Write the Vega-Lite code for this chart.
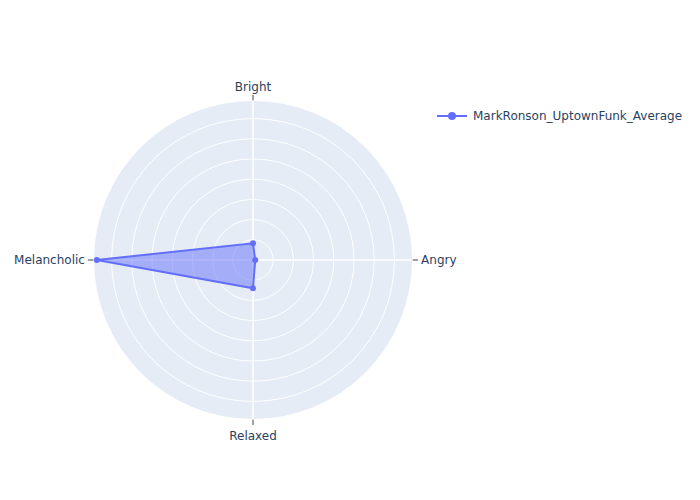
{
  "$schema": "https://vega.github.io/schema/vega-lite/v6.json",
  "width": 318,
  "height": 318,
  "autosize": {"type": "none"},
  "padding": {"left": 94, "top": 101, "right": 288, "bottom": 81},
  "background": "#ffffff",
  "view": {"stroke": null},
  "config": {"font": "DejaVu Sans", "text": {"font": "DejaVu Sans"}},
  "resolve": {"scale": {"color": "shared", "size": "independent"}},
  "datasets": {
    "series": [
      {"series": "MarkRonson_UptownFunk_Average", "axis": "Bright", "idx": 0, "r": 0.83},
      {"series": "MarkRonson_UptownFunk_Average", "axis": "Angry", "idx": 1, "r": 0.11},
      {"series": "MarkRonson_UptownFunk_Average", "axis": "Relaxed", "idx": 2, "r": 1.4},
      {"series": "MarkRonson_UptownFunk_Average", "axis": "Melancholic", "idx": 3, "r": 7.73}
    ],
    "rings": [{"r": 1}, {"r": 2}, {"r": 3}, {"r": 4}, {"r": 5}, {"r": 6}, {"r": 7}],
    "axes": [
      {"axis": "Bright", "idx": 0},
      {"axis": "Angry", "idx": 1},
      {"axis": "Relaxed", "idx": 2},
      {"axis": "Melancholic", "idx": 3}
    ]
  },
  "layer": [
    {
      "data": {"values": [{"r": 7.87}]},
      "transform": [{"calculate": "0", "as": "cx"}],
      "mark": {"type": "point", "shape": "circle", "filled": true, "color": "#E5ECF6", "opacity": 1},
      "encoding": {
        "x": {"field": "cx", "type": "quantitative", "scale": {"domain": [-7.87, 7.87], "nice": false, "zero": false}, "axis": null},
        "y": {"field": "cx", "type": "quantitative", "scale": {"domain": [-7.87, 7.87], "nice": false, "zero": false}, "axis": null},
        "size": {"field": "r", "type": "quantitative", "scale": {"type": "pow", "exponent": 2, "domain": [0, 7.87], "range": [0, 101124], "zero": true, "nice": false}, "legend": null}
      }
    },
    {
      "data": {"name": "rings"},
      "transform": [{"calculate": "0", "as": "cx"}],
      "mark": {"type": "point", "shape": "circle", "filled": false, "stroke": "#ffffff", "strokeWidth": 1, "opacity": 1},
      "encoding": {
        "x": {"field": "cx", "type": "quantitative", "axis": null},
        "y": {"field": "cx", "type": "quantitative", "axis": null},
        "size": {"field": "r", "type": "quantitative", "scale": {"type": "pow", "exponent": 2, "domain": [0, 7.87], "range": [0, 101124], "zero": true, "nice": false}, "legend": null}
      }
    },
    {
      "data": {"name": "axes"},
      "transform": [
        {"filter": "datum.idx < 2"},
        {"calculate": "datum.idx * PI / 2", "as": "a"},
        {"calculate": "7.87 * sin(datum.a)", "as": "gx"},
        {"calculate": "7.87 * cos(datum.a)", "as": "gy"},
        {"calculate": "-7.87 * sin(datum.a)", "as": "hx"},
        {"calculate": "-7.87 * cos(datum.a)", "as": "hy"}
      ],
      "mark": {"type": "rule", "stroke": "#ffffff", "strokeWidth": 1.5},
      "encoding": {
        "x": {"field": "hx", "type": "quantitative", "axis": null},
        "y": {"field": "hy", "type": "quantitative", "axis": null},
        "x2": {"field": "gx"},
        "y2": {"field": "gy"}
      }
    },
    {
      "data": {"name": "axes"},
      "transform": [
        {"calculate": "datum.idx * PI / 2", "as": "a"},
        {"calculate": "7.9 * sin(datum.a)", "as": "t1x"},
        {"calculate": "7.9 * cos(datum.a)", "as": "t1y"},
        {"calculate": "8.17 * sin(datum.a)", "as": "t2x"},
        {"calculate": "8.17 * cos(datum.a)", "as": "t2y"}
      ],
      "mark": {"type": "rule", "stroke": "#444444", "strokeWidth": 1},
      "encoding": {
        "x": {"field": "t1x", "type": "quantitative", "axis": null},
        "y": {"field": "t1y", "type": "quantitative", "axis": null},
        "x2": {"field": "t2x"},
        "y2": {"field": "t2y"}
      }
    },
    {
      "data": {"name": "axes"},
      "transform": [
        {"filter": "datum.idx == 0 || datum.idx == 2"},
        {"calculate": "datum.idx * PI / 2", "as": "a"},
        {"calculate": "datum.idx == 0 ? 8.58 : 8.7", "as": "lr"},
        {"calculate": "datum.lr * sin(datum.a)", "as": "lx"},
        {"calculate": "datum.lr * cos(datum.a)", "as": "ly"}
      ],
      "mark": {"type": "text", "align": "center", "baseline": "middle", "fontSize": 12, "color": "#2a3f5f", "font": "DejaVu Sans"},
      "encoding": {
        "x": {"field": "lx", "type": "quantitative", "axis": null},
        "y": {"field": "ly", "type": "quantitative", "axis": null},
        "text": {"field": "axis"}
      }
    },
    {
      "data": {"name": "axes"},
      "transform": [
        {"filter": "datum.idx == 1"},
        {"calculate": "datum.idx * PI / 2", "as": "a"},
        {"calculate": "8.32 * sin(datum.a)", "as": "lx"},
        {"calculate": "8.32 * cos(datum.a)", "as": "ly"}
      ],
      "mark": {"type": "text", "align": "left", "baseline": "middle", "fontSize": 12, "color": "#2a3f5f", "font": "DejaVu Sans"},
      "encoding": {
        "x": {"field": "lx", "type": "quantitative", "axis": null},
        "y": {"field": "ly", "type": "quantitative", "axis": null},
        "text": {"field": "axis"}
      }
    },
    {
      "data": {"name": "axes"},
      "transform": [
        {"filter": "datum.idx == 3"},
        {"calculate": "datum.idx * PI / 2", "as": "a"},
        {"calculate": "8.32 * sin(datum.a)", "as": "lx"},
        {"calculate": "8.32 * cos(datum.a)", "as": "ly"}
      ],
      "mark": {"type": "text", "align": "right", "baseline": "middle", "fontSize": 12, "color": "#2a3f5f", "font": "DejaVu Sans"},
      "encoding": {
        "x": {"field": "lx", "type": "quantitative", "axis": null},
        "y": {"field": "ly", "type": "quantitative", "axis": null},
        "text": {"field": "axis"}
      }
    },
    {
      "data": {"name": "series"},
      "transform": [
        {"calculate": "datum.idx * PI / 2", "as": "a"},
        {"calculate": "datum.r * sin(datum.a)", "as": "px"},
        {"calculate": "datum.r * cos(datum.a)", "as": "py"}
      ],
      "mark": {"type": "line", "interpolate": "linear-closed", "strokeWidth": 2, "fill": "#636efa", "fillOpacity": 0.5},
      "encoding": {
        "x": {"field": "px", "type": "quantitative", "axis": null},
        "y": {"field": "py", "type": "quantitative", "axis": null},
        "order": {"field": "idx"},
        "color": {"field": "series", "type": "nominal", "scale": {"range": ["#636efa"]},
          "legend": {"title": null, "orient": "none", "legendX": 342, "legendY": -1, "labelFontSize": 12, "labelColor": "#2a3f5f", "labelFont": "DejaVu Sans", "labelLimit": 400, "symbolType": "M-1,0L1,0M-0.2,0A0.2,0.2,0,1,1,0.2,0A0.2,0.2,0,1,1,-0.2,0Z", "symbolSize": 900, "symbolStrokeWidth": 2, "labelOffset": 5,
            "encode": {"symbols": {"update": {"fill": {"value": "#636efa"}, "stroke": {"value": "#636efa"}, "strokeWidth": {"value": 2}, "opacity": {"value": 1}}}}}}
      }
    },
    {
      "data": {"name": "series"},
      "transform": [
        {"calculate": "datum.idx * PI / 2", "as": "a"},
        {"calculate": "datum.r * sin(datum.a)", "as": "px"},
        {"calculate": "datum.r * cos(datum.a)", "as": "py"}
      ],
      "mark": {"type": "point", "filled": true, "size": 36, "opacity": 1},
      "encoding": {
        "x": {"field": "px", "type": "quantitative", "axis": null},
        "y": {"field": "py", "type": "quantitative", "axis": null},
        "color": {"field": "series", "type": "nominal", "scale": {"range": ["#636efa"]}}
      }
    }
  ]
}
